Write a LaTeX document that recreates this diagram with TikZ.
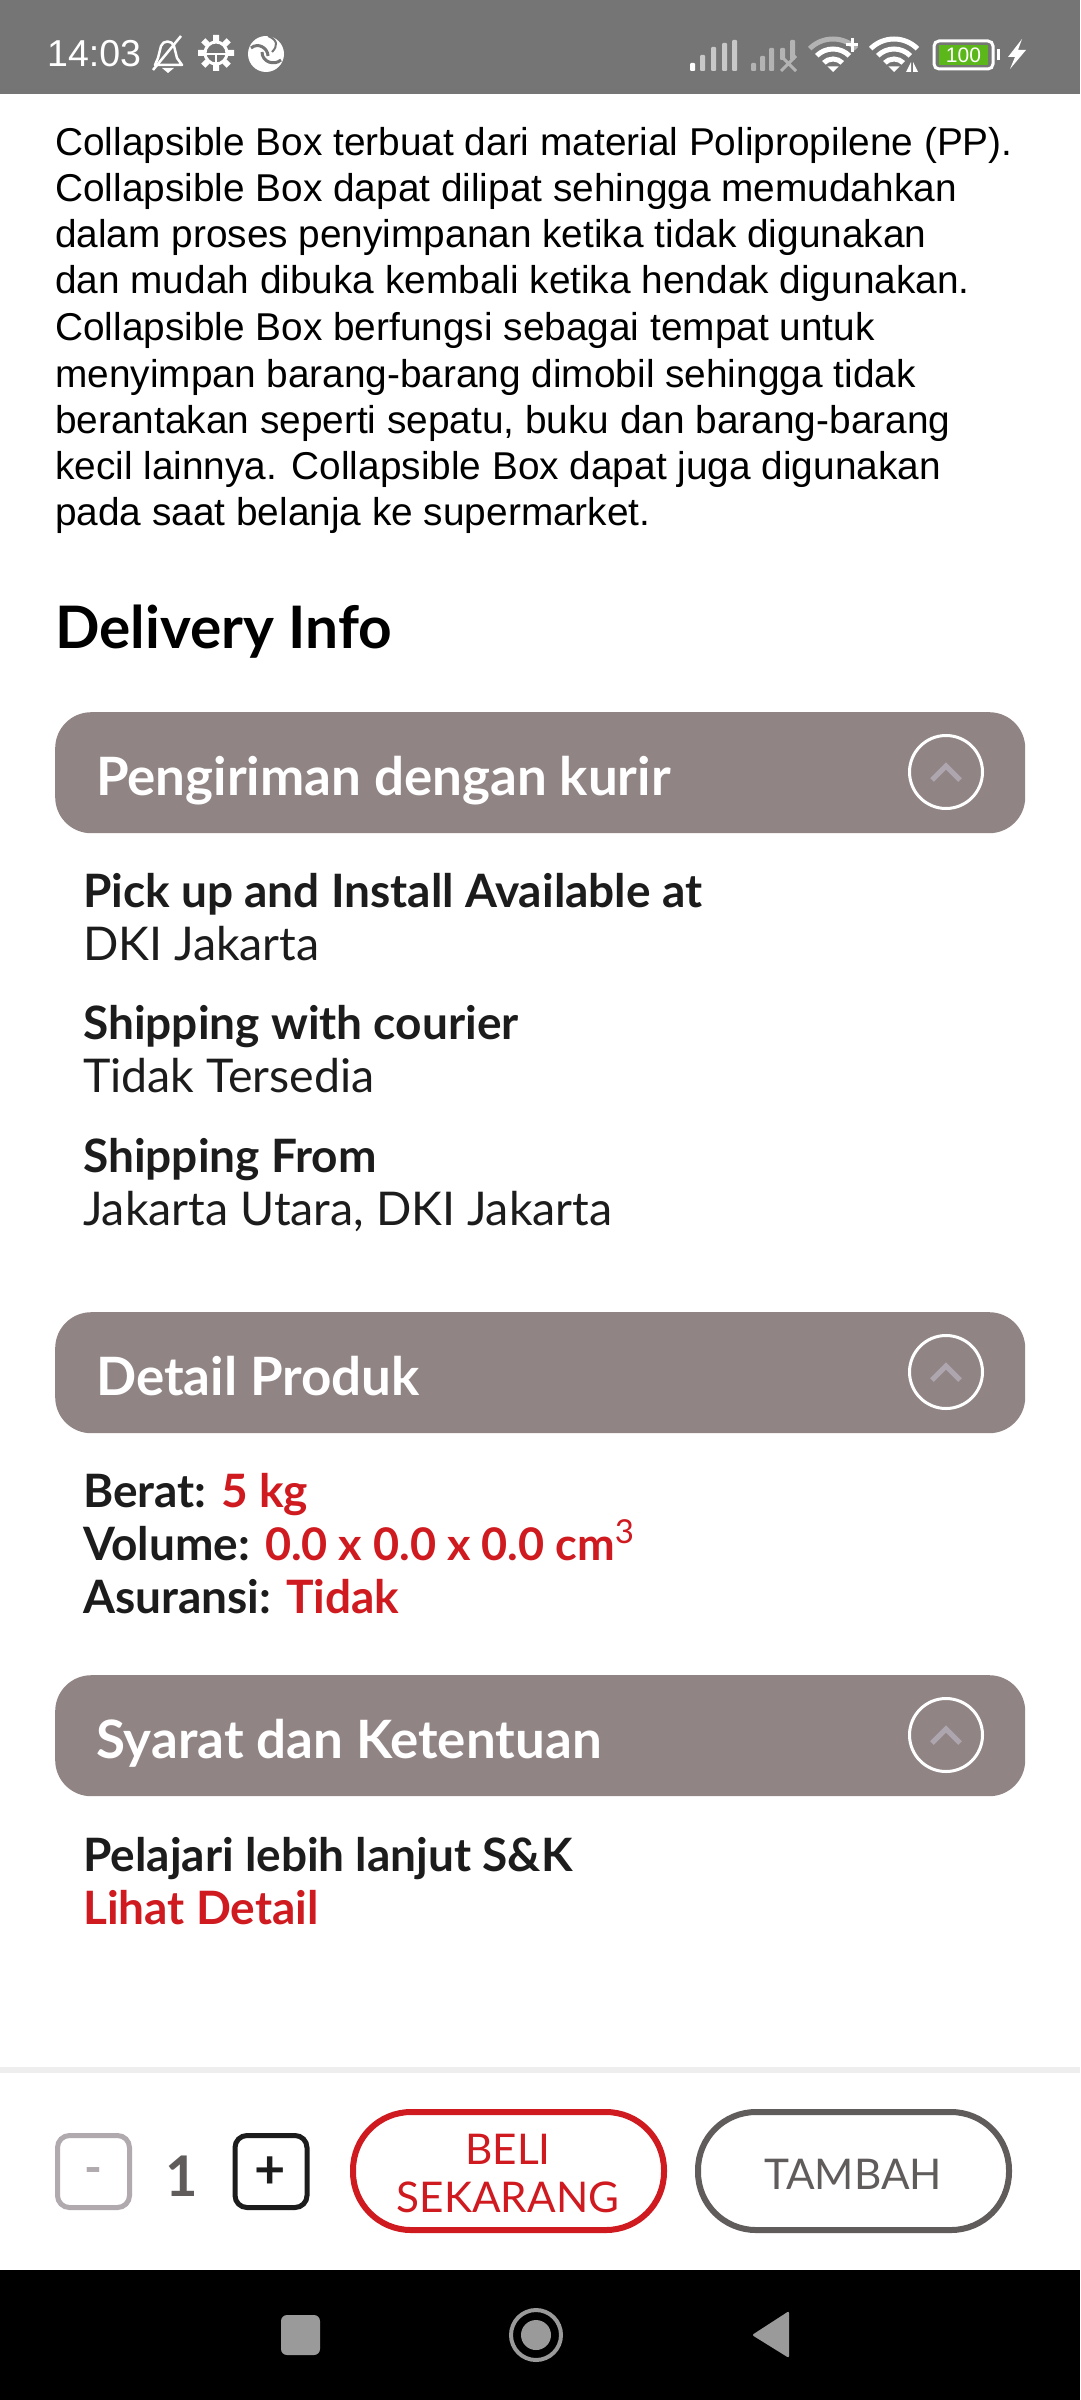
\documentclass[tikz,border=0pt]{standalone}
\usepackage{fontspec}
\setmainfont{Lato}
\newfontfamily\bodyfont{Liberation Sans}
\definecolor{barGray}{HTML}{757575}
\definecolor{panelGray}{HTML}{918484}
\definecolor{chevGray}{HTML}{AEA6AE}
\definecolor{inkDark}{HTML}{1C1C1C}
\definecolor{brandRed}{HTML}{CF1A20}
\definecolor{btnGray}{HTML}{615C5C}
\definecolor{minusGray}{HTML}{B0A9AE}
\definecolor{navGray}{HTML}{9A9A9A}
\definecolor{sepGray}{HTML}{EEEEEE}
\definecolor{batGreen}{HTML}{5BB71A}
\tikzset{
    bodyline/.style={anchor=base west, inner sep=0, text=black, font=\bodyfont\fontsize{38.8}{46}\selectfont},
    heading/.style={anchor=base west, inner sep=0, text=black, font=\fontsize{58.6}{66}\selectfont\bfseries},
    paneltitle/.style={anchor=base west, inner sep=0, text=white, font=\fontsize{52.9}{60}\selectfont\bfseries},
    panelbar/.style={fill=panelGray, rounded corners=36pt, minimum width=970pt, minimum height=121pt, inner sep=0, anchor=north west},
    panelknob/.style={circle, draw=white, line width=3pt, minimum size=73pt, inner sep=0},
    boldline/.style={anchor=base west, inner sep=0, text=inkDark, font=\fontsize{46}{52}\selectfont\bfseries},
    plainline/.style={anchor=base west, inner sep=0, text=inkDark, font=\fontsize{46.5}{52}\selectfont},
    qtybox/.style={draw, line width=5pt, rounded corners=12pt, minimum width=72pt, minimum height=72pt, inner sep=0},
    pillbtn/.style={draw, line width=6pt, rounded corners=58pt, minimum width=311pt, minimum height=118pt, inner sep=0},
    wifiicon/.pic={
        \begin{scope}
            \clip (0, 0) -- (225:60) -- (315:60) -- cycle;
            \draw[white, line width=5pt] (0, 0) circle[radius=13pt];
            \draw[white, line width=5pt] (0, 0) circle[radius=23pt];
            \draw[#1, line width=5pt] (0, 0) circle[radius=33pt];
        \end{scope}
        \fill[white] (0, 0) -- (225:8) -- (315:8) -- cycle;
    },
}
\begin{document}
\begin{tikzpicture}[x=1pt, y=-1pt]
    \useasboundingbox (0, 0) rectangle (1080, 2400);
    \fill[white] (0, 0) rectangle (1080, 2400);

    % status bar
    \fill[barGray] (0, 0) rectangle (1080, 94);
    \node[anchor=base west, inner sep=0, text=white, font=\bodyfont\fontsize{37.5}{40}\selectfont] (clock) at (47, 67) {14:03};
    \draw[white, line width=2.5pt, line join=round] (155, 65) -- (158, 58) -- (161, 46) .. controls (163, 40) and (172, 40) .. (174, 46) -- (177, 58) -- (182, 65) -- cycle;
    \draw[white, line width=2.5pt] (181, 36) -- (153, 70);
    \fill[white] (162, 68) -- (174, 68) -- (168, 73) -- cycle;
    \foreach \a in {0, 45, ..., 315} {
        \fill[white] (216, 53) ++(\a:12) -- ++(\a+90:3) -- ++(\a:6) -- ++(\a-90:6) -- ++(\a+180:6) -- cycle;
    }
    \draw[white, line width=3pt] (216, 53) circle[radius=11pt];
    \draw[white, line width=2.5pt] (205, 54) -- (227, 54) (216, 54) -- (216, 64);
    \fill[white] (266, 54) circle[radius=18pt];
    \draw[barGray, line width=3pt] (251, 48) .. controls (258, 42) and (268, 48) .. (268, 56);
    \draw[barGray, line width=3pt] (281, 60) .. controls (274, 66) and (262, 62) .. (262, 52);
    \draw[barGray, line width=2pt] (268, 36) .. controls (278, 40) and (278, 46) .. (272, 52);

    % signal bars
    \fill[white, rounded corners=1pt] (690, 63) rectangle (695, 71);
    \fill[white!60!barGray, rounded corners=1pt] (700, 55) rectangle (705, 71);
    \fill[white!60!barGray, rounded corners=1pt] (711, 47) rectangle (716, 71);
    \fill[white!60!barGray, rounded corners=1pt] (732, 40) rectangle (737, 71);
    \fill[white!60!barGray, rounded corners=1pt] (722, 43) rectangle (727, 71);
    \fill[white!45!barGray, rounded corners=1pt] (751, 63) rectangle (756, 71);
    \fill[white!45!barGray, rounded corners=1pt] (760, 56) rectangle (765, 71);
    \fill[white!45!barGray, rounded corners=1pt] (769, 48) rectangle (774, 71);
    \fill[white!45!barGray, rounded corners=1pt] (780, 48) rectangle (785, 60);
    \fill[white!45!barGray, rounded corners=1pt] (790, 40) rectangle (795, 60);
    \draw[white!45!barGray, line width=3pt] (781, 56) -- (796, 71) (796, 56) -- (781, 71);

    % wifi icons
    \pic at (833, 72) {wifiicon={white!45!barGray}};
    \draw[white, line width=3pt] (846, 45) -- (858, 45) (852, 38) -- (852, 52);
    \pic at (894, 72) {wifiicon=white};
    \fill[white] (906, 72) -- (911, 62) -- (911, 72) -- cycle;
    \fill[white] (913, 62) -- (918, 72) -- (913, 72) -- cycle;

    % battery
    \draw[white, line width=3pt, rounded corners=5pt] (934, 41) rectangle (993, 69);
    \fill[batGreen] (939, 45) rectangle (988, 65);
    \node[inner sep=0, text=white, font=\bodyfont\fontsize{21}{24}\selectfont] (batlevel) at (963.5, 55) {100};
    \fill[white] (997, 49) rectangle (1000, 60);
    \fill[white] (1022, 39) -- (1008, 57) -- (1015, 57) -- (1010, 69) -- (1026, 50) -- (1018, 50) -- cycle;

    % description
    \node[bodyline] (descA) at (55, 156) {Collapsible Box terbuat dari material Polipropilene (PP).};
    \node[bodyline] (descB) at (55, 202) {Collapsible Box dapat dilipat sehingga memudahkan};
    \node[bodyline] (descC) at (55, 248) {dalam proses penyimpanan ketika tidak digunakan};
    \node[bodyline] (descD) at (55, 294) {dan mudah dibuka kembali ketika hendak digunakan.};
    \node[bodyline] (descE) at (55, 340) {Collapsible Box berfungsi sebagai tempat untuk};
    \node[bodyline] (descF) at (55, 387) {menyimpan barang-barang dimobil sehingga tidak};
    \node[bodyline] (descG) at (55, 433) {berantakan seperti sepatu, buku dan barang-barang};
    \node[bodyline] (descH) at (55, 479) {kecil lainnya. Collapsible Box dapat juga digunakan};
    \node[bodyline] (descI) at (55, 525) {pada saat belanja ke supermarket.};

    \node[heading] (delivery) at (55, 648) {Delivery Info};

    % panels
    \foreach \top/\name/\title in {712/kurir/Pengiriman dengan kurir, 1312/produk/Detail Produk, 1675/syarat/Syarat dan Ketentuan} {
        \node[panelbar] (\name) at (55, \top) {};
        \node[paneltitle] (\name title) at (96, \top+65+18) {\title};
        \node[panelknob] (\name knob) at (946, \top+60) {};
        \draw[chevGray, line width=5pt] (932, \top+68) -- (946, \top+54) -- (960, \top+68);
    }

    \node[boldline] (pickup) at (83, 907) {Pick up and Install Available at};
    \node[plainline] (pickupval) at (83, 960) {DKI Jakarta};
    \node[boldline] (courier) at (83, 1039) {Shipping with courier};
    \node[plainline] (courierval) at (83, 1092) {Tidak Tersedia};
    \node[boldline] (from) at (83, 1172) {Shipping From};
    \node[plainline] (fromval) at (83, 1225) {Jakarta Utara, DKI Jakarta};

    \node[boldline] (berat) at (83, 1507) {Berat: \textcolor{brandRed}{5 kg}};
    \node[boldline] (volume) at (83, 1560) {Volume: \textcolor{brandRed}{\fontsize{45}{52}\selectfont 0.0 x 0.0 x 0.0 cm\raisebox{17pt}{\fontsize{33}{34}\selectfont\mdseries 3}}};
    \node[boldline] (asuransi) at (83, 1613) {Asuransi: \textcolor{brandRed}{Tidak}};

    \node[boldline] (snk) at (83, 1871) {Pelajari lebih lanjut S\&K};
    \node[boldline, text=brandRed] (lihat) at (83, 1924) {Lihat Detail};

    % bottom bar
    \fill[sepGray] (0, 2067) rectangle (1080, 2073);
    \node[qtybox, draw=minusGray] (minus) at (93.5, 2171.5) {};
    \node[inner sep=0, text=minusGray, font=\fontsize{48}{48}\selectfont\bfseries] (minuslabel) at (93.5, 2176) {-};
    \node[inner sep=0, text=btnGray, font=\fontsize{56}{60}\selectfont\bfseries] (qty) at (182, 2176) {1};
    \node[qtybox, draw=inkDark] (plus) at (271, 2171.5) {};
    \node[inner sep=0, text=inkDark, font=\fontsize{54}{56}\selectfont\bfseries] (pluslabel) at (270, 2173) {+};
    \node[pillbtn, draw=brandRed] (beli) at (508.5, 2171) {};
    \node[text=brandRed, inner sep=0, align=center, font=\fontsize{42.3}{48}\selectfont] (belilabel) at (508, 2173) {BELI\\SEKARANG};
    \node[pillbtn, draw=btnGray] (tambah) at (853.5, 2171) {};
    \node[text=btnGray, inner sep=0, font=\fontsize{42.3}{48}\selectfont] (tambahlabel) at (853, 2174) {TAMBAH};

    % nav bar
    \fill[black] (0, 2270) rectangle (1080, 2400);
    \fill[navGray, rounded corners=6pt] (281, 2315) rectangle (320, 2355);
    \draw[navGray, line width=4pt] (536, 2335) circle[radius=25pt];
    \fill[navGray] (536, 2335) circle[radius=15pt];
    \fill[navGray, rounded corners=2pt] (789, 2311) -- (752, 2335) -- (789, 2358) -- cycle;
\end{tikzpicture}
\end{document}
